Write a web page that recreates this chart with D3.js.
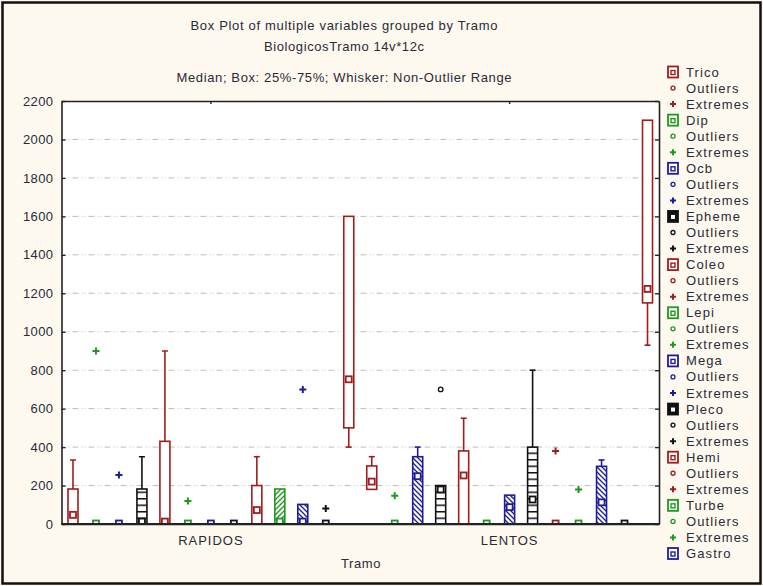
<!DOCTYPE html>
<html>
<head>
<meta charset="utf-8">
<script src="https://cdn.jsdelivr.net/npm/d3@7"></script>
<style>
  html, body { margin: 0; padding: 0; background: #fdf9ee; }
  svg { display: block; font-family: "Liberation Sans", Arial, sans-serif; }
</style>
</head>
<body>
<svg id="chart" width="763" height="586"></svg>
<script>
// ---- data -------------------------------------------------------------
const groups = ["RAPIDOS", "LENTOS"];
const variables = ["Trico", "Dip", "Ocb", "Epheme", "Coleo", "Lepi", "Mega",
                   "Pleco", "Hemi", "Turbe", "Gastro", "Var12", "Var13"];
const yTickValues = [0, 200, 400, 600, 800, 1000, 1200, 1400, 1600, 1800, 2000, 2200];

// one row per group (RAPIDOS, LENTOS), one column per variable
const whiskerLow = [
  [0, 0, 0, 0, 0, 0, 0, 0, 0, 0, 0, 0, 400],
  [180, 0, 0, 0, 0, 0, 0, 0, 0, 0, 0, 0, 930]
];
const quartile1 = [
  [0, 0, 0, 0, 0, 0, 0, 0, 0, 0, 0, 0, 500],
  [180, 0, 0, 0, 0, 0, 0, 0, 0, 0, 0, 0, 1150]
];
const medians = [
  [45, 0, 0, 10, 10, 0, 0, 0, 70, 10, 10, 0, 750],
  [218, 0, 246, 177, 250, 0, 85, 125, 0, 0, 110, 0, 1220]
];
const quartile3 = [
  [182, 0, 0, 182, 430, 0, 0, 0, 200, 182, 102, 0, 1600],
  [302, 0, 350, 200, 380, 0, 150, 400, 0, 0, 300, 0, 2100]
];
const whiskerHigh = [
  [333, 0, 0, 350, 900, 0, 0, 0, 350, 182, 102, 0, 1600],
  [350, 0, 400, 200, 550, 0, 150, 800, 0, 0, 333, 0, 2100]
];
// [group, variable, value]
const outlierPoints = [
  ["LENTOS", "Epheme", 700]
];
const extremePoints = [
  ["RAPIDOS", "Dip", 900], ["RAPIDOS", "Ocb", 255], ["RAPIDOS", "Lepi", 120],
  ["RAPIDOS", "Gastro", 700], ["RAPIDOS", "Var12", 80],
  ["LENTOS", "Dip", 147], ["LENTOS", "Hemi", 380], ["LENTOS", "Turbe", 180]
];
const titleLines = [
  "Box Plot  of multiple variables grouped by  Tramo",
  "BiologicosTramo 14v*12c",
  "Median; Box: 25%-75%; Whisker: Non-Outlier Range"
];

// ---- styling ----------------------------------------------------------
const palette = ["#a11d1d", "#1d991d", "#1d1d9c", "#111111"];
const colorOf = i => palette[i % 4];

const W = 763, H = 586;
const plot = { left: 61.5, right: 659, top: 101, bottom: 524 };

const svg = d3.select("#chart");

// page frame
svg.append("rect").attr("x", 2.5).attr("y", 2.5).attr("width", W - 5).attr("height", H - 5)
  .attr("fill", "#fdf9ee").attr("stroke", "#111").attr("stroke-width", 2.5);

// fill patterns: plain (red), "/" hatch (green), "\" hatch (blue), ladder (black)
const defs = svg.append("defs");
function hatch(id, color, d) {
  const p = defs.append("pattern").attr("id", id).attr("patternUnits", "userSpaceOnUse")
    .attr("width", 5).attr("height", 5);
  p.append("rect").attr("width", 5).attr("height", 5).attr("fill", "#fff");
  p.append("path").attr("d", d).attr("stroke", color).attr("stroke-width", 1.3);
}
hatch("pat1", palette[1], "M0,5L5,0M-1,1L1,-1M4,6L6,4");
hatch("pat2", palette[2], "M0,0L5,5M-1,4L1,6M4,-1L6,1");
{
  const p = defs.append("pattern").attr("id", "pat3").attr("patternUnits", "userSpaceOnUse")
    .attr("width", 10).attr("height", 6.5).attr("y", 524);
  p.append("rect").attr("width", 10).attr("height", 6.5).attr("fill", "#fff");
  p.append("line").attr("x1", 0).attr("x2", 10).attr("y1", 0.75).attr("y2", 0.75)
    .attr("stroke", palette[3]).attr("stroke-width", 1.5);
}
const fillOf = i => (i % 4 === 0 ? "#fff" : `url(#pat${i % 4})`);

defs.append("clipPath").attr("id", "plotClip").append("rect")
  .attr("x", plot.left).attr("y", plot.top)
  .attr("width", plot.right - plot.left).attr("height", plot.bottom - plot.top);

// ---- scales -----------------------------------------------------------
const y = d3.scaleLinear().domain([0, 2200]).range([plot.bottom, plot.top]);
const xg = d3.scaleBand().domain(groups).range([plot.left, plot.right]).padding(0);
const xv = d3.scaleBand().domain(variables).range([0, xg.bandwidth()]).padding(0);
const cx = (g, v) => xg(g) + xv(v) + xv.bandwidth() / 2;

// plot background
svg.append("rect").attr("x", plot.left).attr("y", plot.top)
  .attr("width", plot.right - plot.left).attr("height", plot.bottom - plot.top)
  .attr("fill", "#fff");

// dotted grid
svg.append("g").selectAll("line")
  .data(yTickValues.filter(v => v > 0 && v < 2200))
  .join("line")
  .attr("x1", plot.left + 4).attr("x2", plot.right - 4)
  .attr("y1", d => y(d)).attr("y2", d => y(d))
  .attr("stroke", "#bdbdbd").attr("stroke-width", 1)
  .attr("stroke-dasharray", "1,2,1,3,6,3");

// ---- boxes --------------------------------------------------------------
const boxW = 10, capW = 6, medS = 7;
const marks = svg.append("g").attr("clip-path", "url(#plotClip)");

groups.forEach((g, gi) => {
  variables.forEach((v, vi) => {
    const x = cx(g, v), col = colorOf(vi);
    const lo = whiskerLow[gi][vi], q1 = quartile1[gi][vi], md = medians[gi][vi],
          q3 = quartile3[gi][vi], hi = whiskerHigh[gi][vi];
    const item = marks.append("g").attr("stroke", col).attr("stroke-width", 1.6);
    if (hi > q3) {
      item.append("line").attr("x1", x).attr("x2", x).attr("y1", y(q3)).attr("y2", y(hi));
      item.append("line").attr("x1", x - capW / 2).attr("x2", x + capW / 2)
        .attr("y1", y(hi)).attr("y2", y(hi));
    }
    if (lo < q1) {
      item.append("line").attr("x1", x).attr("x2", x).attr("y1", y(q1)).attr("y2", y(lo));
      item.append("line").attr("x1", x - capW / 2).attr("x2", x + capW / 2)
        .attr("y1", y(lo)).attr("y2", y(lo));
    }
    if (y(q1) - y(q3) >= 1) {
      item.append("rect").attr("x", x - boxW / 2).attr("y", y(q3))
        .attr("width", boxW).attr("height", y(q1) - y(q3))
        .attr("fill", fillOf(vi));
    }
    item.append("rect").attr("x", x - medS / 2 + 0.5).attr("y", y(md) - medS / 2)
      .attr("width", medS - 1).attr("height", medS - 1)
      .attr("fill", "#fff").attr("stroke-width", 1.8);
  });
});

// extremes (+) and outliers (o)
marks.selectAll(".extreme").data(extremePoints).join("path")
  .attr("class", "extreme")
  .attr("transform", d => `translate(${cx(d[0], d[1])},${y(d[2])})`)
  .attr("d", "M-3.5,0H3.5M0,-3.5V3.5")
  .attr("stroke", d => colorOf(variables.indexOf(d[1]))).attr("stroke-width", 2);
marks.selectAll(".outlier").data(outlierPoints).join("circle")
  .attr("class", "outlier")
  .attr("cx", d => cx(d[0], d[1])).attr("cy", d => y(d[2])).attr("r", 2.3)
  .attr("fill", "#fff")
  .attr("stroke", d => colorOf(variables.indexOf(d[1]))).attr("stroke-width", 1.3);

// ---- axes ---------------------------------------------------------------
const axisColor = "#222";
const yAxis = svg.append("g").attr("transform", `translate(${plot.left},0)`)
  .call(d3.axisLeft(y).tickValues(yTickValues).tickFormat(d3.format("d"))
    .tickSizeInner(-4).tickSizeOuter(0).tickPadding(8));
const yAxisR = svg.append("g").attr("transform", `translate(${plot.right},0)`)
  .call(d3.axisRight(y).tickValues(yTickValues).tickSizeInner(-4).tickSizeOuter(0).tickFormat(""));
const xAxisTop = svg.append("g").attr("transform", `translate(0,${plot.top})`)
  .call(d3.axisTop(xg).tickSizeInner(-3).tickSizeOuter(0).tickFormat(""));
const xAxis = svg.append("g").attr("transform", `translate(0,${plot.bottom})`)
  .call(d3.axisBottom(xg).tickSizeInner(0).tickSizeOuter(0).tickPadding(12));

[yAxis, yAxisR, xAxisTop, xAxis].forEach(a => {
  a.select(".domain").attr("stroke", axisColor).attr("stroke-width", 1.6);
  a.selectAll(".tick line").attr("stroke", axisColor).attr("stroke-width", 1.4);
  a.selectAll("text").attr("fill", "#2a2a38")
    .style("font-family", "'Liberation Sans', Arial, sans-serif")
    .style("font-size", "13px").style("letter-spacing", "0.4px");
});
xAxis.selectAll("text").style("letter-spacing", "1px");
svg.append("line").attr("x1", plot.left).attr("x2", plot.right)
  .attr("y1", plot.bottom).attr("y2", plot.bottom)
  .attr("stroke", axisColor).attr("stroke-width", 1.8);

// axis title
svg.append("text").attr("x", 361).attr("y", 568).attr("text-anchor", "middle")
  .attr("font-size", 13).attr("fill", "#2a2a38").style("letter-spacing", "0.6px")
  .text("Tramo");

// chart titles
const titleY = [30, 51, 82], titleW = [307, 160, 335];
titleLines.forEach((t, i) => {
  svg.append("text").attr("x", 344).attr("y", titleY[i]).attr("text-anchor", "middle")
    .attr("font-size", 13).attr("fill", "#2a2a38")
    .attr("textLength", titleW[i]).attr("lengthAdjust", "spacing")
    .text(t);
});

// ---- legend ---------------------------------------------------------------
const legendRows = [];
variables.forEach((v, i) => {
  legendRows.push({ kind: "box", label: v, i });
  legendRows.push({ kind: "outlier", label: "Outliers", i });
  legendRows.push({ kind: "extreme", label: "Extremes", i });
});
const legendTop = 72, rowH = 16.05, legendBottom = 560;
const legend = svg.append("g");
legendRows.forEach((r, k) => {
  const yy = legendTop + k * rowH;
  if (yy > legendBottom) return;
  const col = colorOf(r.i);
  const row = legend.append("g").attr("transform", `translate(0,${yy})`);
  if (r.kind === "box") {
    const dark = r.i % 4 === 3;
    row.append("rect").attr("x", 668).attr("y", -5.5).attr("width", 10).attr("height", 11)
      .attr("fill", dark ? col : "#fff").attr("stroke", col).attr("stroke-width", 1.8);
    row.append("rect").attr("x", 671).attr("y", -1.5).attr("width", 4).attr("height", 4)
      .attr("fill", dark ? "#fff" : "none").attr("stroke", dark ? "none" : col).attr("stroke-width", 1.4);
  } else if (r.kind === "outlier") {
    row.append("circle").attr("cx", 673).attr("cy", 0).attr("r", 2)
      .attr("fill", "#fff").attr("stroke", col).attr("stroke-width", 1.3);
  } else {
    row.append("path").attr("d", "M670,0H676M673,-3V3")
      .attr("stroke", col).attr("stroke-width", 2);
  }
  row.append("text").attr("x", 686).attr("y", 4.5).attr("font-size", 13)
    .attr("fill", "#2a2a38").style("letter-spacing", "1.1px").text(r.label);
});
</script>
</body>
</html>
